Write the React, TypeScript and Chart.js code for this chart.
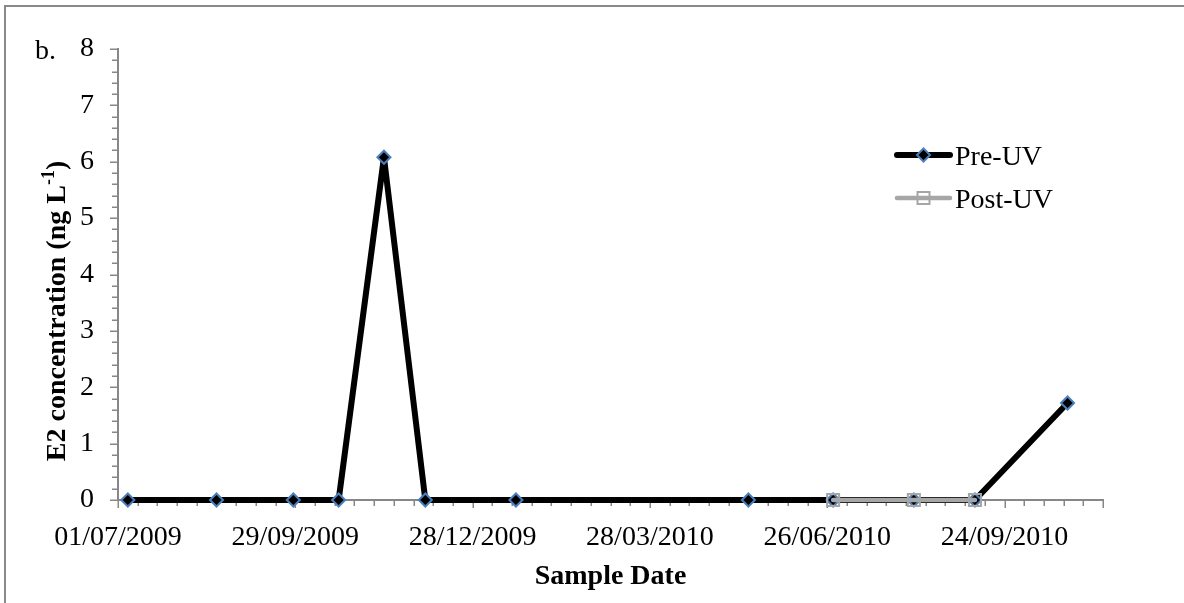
import React, { useEffect, useRef } from 'react';
import { Chart, registerables } from 'chart.js';

Chart.register(...registerables);

// ---------- data ----------
const axisStartDate = '2009-07-01';
const axisSpanDays = 500;
const majorStepDays = 90;
const minorStepDays = 10;

const seriesNames = ['Pre-UV', 'Post-UV'];

const preUvDates = [
  '2009-07-06', '2009-08-20', '2009-09-28', '2009-10-21', '2009-11-13', '2009-12-04',
  '2010-01-19', '2010-05-17', '2010-06-29', '2010-08-09', '2010-09-09', '2010-10-26',
];
const preUvValues = [0, 0, 0, 0, 6.08, 0, 0, 0, 0, 0, 0, 1.72];

const postUvDates = ['2010-06-29', '2010-08-09', '2010-09-09'];
const postUvValues = [0, 0, 0];

const yMin = 0;
const yMax = 8;
const yMinorPerMajor = 5;

const xTitle = 'Sample Date';
const yTitleMain = 'E2 concentration (ng L';
const yTitleSup = '-1';
const yTitleEnd = ')';
const panelLabel = 'b.';

// ---------- helpers ----------
const DAY_MS = 86400000;
const toDay = (s: string) => {
  const [y, m, d] = s.split('-').map(Number);
  return Date.UTC(y, m - 1, d) / DAY_MS;
};
const fmtDay = (day: number) => {
  const dt = new Date(Math.round(day) * DAY_MS);
  const dd = String(dt.getUTCDate()).padStart(2, '0');
  const mm = String(dt.getUTCMonth() + 1).padStart(2, '0');
  return `${dd}/${mm}/${dt.getUTCFullYear()}`;
};

const X_MIN = toDay(axisStartDate);
const X_MAX = X_MIN + axisSpanDays;

const FAMILY = '"Liberation Serif", "Times New Roman", serif';
const AXIS_GRAY = '#878787';
const PRE_COLOR = '#000000';
const PRE_MARKER_EDGE = '#4a7ebb';
const POST_COLOR = '#a6a6a6';

const decorPlugin = {
  id: 'decor',
  beforeDraw(chart: any) {
    const ctx = chart.ctx as CanvasRenderingContext2D;
    ctx.save();
    ctx.fillStyle = '#ffffff';
    ctx.fillRect(0, 0, chart.width, chart.height);
    ctx.strokeStyle = '#898989';
    ctx.lineWidth = 2;
    ctx.beginPath();
    ctx.moveTo(5, chart.height + 5);
    ctx.lineTo(5, 6);
    ctx.lineTo(chart.width + 5, 6);
    ctx.stroke();
    ctx.restore();
  },
  beforeDatasetsDraw(chart: any) {
    const ctx = chart.ctx as CanvasRenderingContext2D;
    const xs = chart.scales.x;
    const ys = chart.scales.y;
    const area = chart.chartArea;
    ctx.save();
    ctx.strokeStyle = AXIS_GRAY;
    ctx.lineWidth = 1.5;
    ctx.beginPath();
    for (let d = 0; d <= axisSpanDays; d += minorStepDays) {
      const px = Math.round(xs.getPixelForValue(X_MIN + d)) + 0.25;
      const len = d % majorStepDays === 0 || d === axisSpanDays ? 8 : 6;
      ctx.moveTo(px, area.bottom);
      ctx.lineTo(px, area.bottom + len);
    }
    const steps = (yMax - yMin) * yMinorPerMajor;
    for (let i = 0; i <= steps; i++) {
      const v = yMin + i / yMinorPerMajor;
      const py = Math.round(ys.getPixelForValue(v)) + 0.25;
      const len = i % yMinorPerMajor === 0 ? 8 : 6;
      ctx.moveTo(area.left - len, py);
      ctx.lineTo(area.left, py);
    }
    ctx.stroke();
    ctx.restore();
  },
  afterDraw(chart: any) {
    const ctx = chart.ctx as CanvasRenderingContext2D;
    const area = chart.chartArea;
    ctx.save();
    ctx.fillStyle = '#000';
    ctx.textBaseline = 'alphabetic';

    // panel label
    ctx.font = `28px ${FAMILY}`;
    ctx.textAlign = 'left';
    ctx.fillText(panelLabel, 35, 59);

    // x title
    ctx.font = `bold 28px ${FAMILY}`;
    ctx.textAlign = 'center';
    ctx.fillText(xTitle, (area.left + area.right) / 2, 584);

    // y title with superscript
    ctx.save();
    ctx.translate(65, 311);
    ctx.rotate(-Math.PI / 2);
    ctx.textAlign = 'left';
    ctx.font = `bold 28px ${FAMILY}`;
    const w1 = ctx.measureText(yTitleMain).width;
    const w3 = ctx.measureText(yTitleEnd).width;
    ctx.font = `bold 18px ${FAMILY}`;
    const w2 = ctx.measureText(yTitleSup).width;
    const x0 = -(w1 + w2 + w3) / 2;
    ctx.font = `bold 28px ${FAMILY}`;
    ctx.fillText(yTitleMain, x0, 0);
    ctx.font = `bold 18px ${FAMILY}`;
    ctx.fillText(yTitleSup, x0 + w1, -11);
    ctx.font = `bold 28px ${FAMILY}`;
    ctx.fillText(yTitleEnd, x0 + w1 + w2, 0);
    ctx.restore();

    // legend
    const lx0 = 897;
    const lx1 = 950;
    const lcx = (lx0 + lx1) / 2;
    const rows = [155, 198];
    ctx.lineCap = 'round';
    // Pre-UV
    ctx.strokeStyle = PRE_COLOR;
    ctx.lineWidth = 6;
    ctx.beginPath();
    ctx.moveTo(lx0, rows[0]);
    ctx.lineTo(lx1, rows[0]);
    ctx.stroke();
    ctx.beginPath();
    ctx.moveTo(lcx, rows[0] - 6.5);
    ctx.lineTo(lcx + 6.5, rows[0]);
    ctx.lineTo(lcx, rows[0] + 6.5);
    ctx.lineTo(lcx - 6.5, rows[0]);
    ctx.closePath();
    ctx.fillStyle = PRE_COLOR;
    ctx.fill();
    ctx.lineWidth = 2;
    ctx.strokeStyle = PRE_MARKER_EDGE;
    ctx.stroke();
    // Post-UV
    ctx.strokeStyle = POST_COLOR;
    ctx.lineWidth = 4.5;
    ctx.beginPath();
    ctx.moveTo(lx0, rows[1]);
    ctx.lineTo(lx1, rows[1]);
    ctx.stroke();
    ctx.lineWidth = 2;
    ctx.strokeRect(lcx - 6, rows[1] - 6, 12, 12);

    ctx.fillStyle = '#000';
    ctx.font = `28px ${FAMILY}`;
    ctx.textAlign = 'left';
    ctx.fillText(seriesNames[0], 955, rows[0] + 10);
    ctx.fillText(seriesNames[1], 955, rows[1] + 10);
    ctx.restore();
  },
};

export default function App() {
  const canvasRef = useRef<HTMLCanvasElement | null>(null);

  useEffect(() => {
    const canvas = canvasRef.current;
    if (!canvas) return;

    const preData = preUvDates.map((d, i) => ({ x: toDay(d), y: preUvValues[i] }));
    const postData = postUvDates.map((d, i) => ({ x: toDay(d), y: postUvValues[i] }));

    const chart = new Chart(canvas, {
      type: 'line',
      data: {
        datasets: [
          {
            label: seriesNames[0],
            data: preData,
            order: 2,
            borderColor: PRE_COLOR,
            borderWidth: 6,
            borderJoinStyle: 'round',
            borderCapStyle: 'round',
            pointStyle: 'rectRot',
            pointRadius: 6.5,
            pointBackgroundColor: PRE_COLOR,
            pointBorderColor: PRE_MARKER_EDGE,
            pointBorderWidth: 2,
            tension: 0,
            clip: false as any,
          },
          {
            label: seriesNames[1],
            data: postData,
            order: 1,
            borderColor: POST_COLOR,
            borderWidth: 4.5,
            borderJoinStyle: 'round',
            borderCapStyle: 'round',
            pointStyle: 'rect',
            pointRadius: 8.5,
            pointBackgroundColor: 'rgba(0,0,0,0)',
            pointBorderColor: POST_COLOR,
            pointBorderWidth: 2,
            tension: 0,
            clip: false as any,
          },
        ],
      },
      options: {
        responsive: false,
        animation: false,
        layout: { padding: { left: 0, top: 49, right: 81, bottom: 0 } },
        plugins: {
          legend: { display: false },
          tooltip: { enabled: false },
          title: { display: false },
        },
        scales: {
          x: {
            type: 'linear',
            min: X_MIN,
            max: X_MAX,
            afterBuildTicks: (s: any) => {
              const t: any[] = [];
              for (let d = 0; d <= axisSpanDays; d += minorStepDays) t.push({ value: X_MIN + d });
              s.ticks = t;
            },
            afterFit: (s: any) => {
              s.height = 103;
            },
            ticks: {
              autoSkip: false,
              maxRotation: 0,
              minRotation: 0,
              padding: 21,
              color: '#000',
              font: { family: FAMILY, size: 28 },
              callback: (v: any) => {
                const d = Math.round(Number(v) - X_MIN);
                return d % majorStepDays === 0 && d < axisSpanDays ? fmtDay(Number(v)) : '';
              },
            },
            grid: { display: false, drawTicks: false, drawOnChartArea: false },
            border: { display: true, color: AXIS_GRAY, width: 2 },
          },
          y: {
            type: 'linear',
            min: yMin,
            max: yMax,
            afterBuildTicks: (s: any) => {
              const t: any[] = [];
              const steps = (yMax - yMin) * yMinorPerMajor;
              for (let i = 0; i <= steps; i++) t.push({ value: yMin + i / yMinorPerMajor });
              s.ticks = t;
            },
            afterFit: (s: any) => {
              s.width = 118;
            },
            ticks: {
              autoSkip: false,
              padding: 24,
              color: '#000',
              font: { family: FAMILY, size: 28 },
              callback: (v: any) => {
                const n = Number(v);
                return Math.abs(n - Math.round(n)) < 1e-6 ? String(Math.round(n)) : '';
              },
            },
            grid: { display: false, drawTicks: false, drawOnChartArea: false },
            border: { display: true, color: AXIS_GRAY, width: 2 },
          },
        },
      },
      plugins: [decorPlugin],
    } as any);

    return () => chart.destroy();
  }, []);

  return (
    <div style={{ position: 'absolute', left: 0, top: 0, width: 1184, height: 603, background: '#fff' }}>
      <canvas ref={canvasRef} width={1184} height={603} style={{ display: 'block', width: 1184, height: 603 }} />
    </div>
  );
}
